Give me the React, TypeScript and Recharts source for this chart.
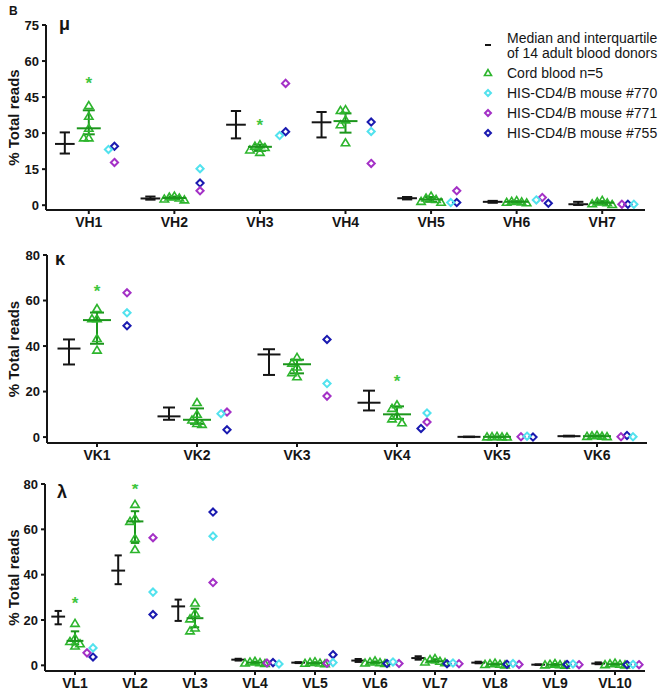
import React from 'react';
import { ScatterChart, Scatter, XAxis, YAxis, ErrorBar, Legend } from 'recharts';

const FONT = '"Liberation Sans", Arial, Helvetica, sans-serif';
const INK = '#151515';
const GREEN = '#2db52d';
const GREEN_DARK = '#1c961c';
const STAR_GREEN = '#3fc63f';
const CYAN = '#52e2ee';
const PURPLE = '#a431c6';
const BLUE = '#1a1ab0';

// ---- mu heavy chain (VH) ----
const VH_CATS = ['VH1', 'VH2', 'VH3', 'VH4', 'VH5', 'VH6', 'VH7'];
const VH_ADULT_MED = [25.5, 2.8, 33.5, 34.5, 2.9, 1.4, 0.4];
const VH_ADULT_Q1 = [21.5, 2.3, 27.8, 28.2, 2.4, 1.0, 0.1];
const VH_ADULT_Q3 = [30.3, 3.6, 39.2, 38.8, 3.4, 1.8, 1.4];
const VH_CORD = [
  [41.5, 37, 32, 28, 28],
  [3.8, 3.4, 3.0, 2.6, 2.2],
  [25.2, 24.6, 24.0, 23.0, 22.0],
  [39.8, 39.4, 35.5, 33.5, 26],
  [3.8, 3.0, 2.4, 1.6, 1.2],
  [1.9, 1.6, 1.4, 1.2, 1.0],
  [2.0, 1.4, 1.0, 0.6, 0.3],
];
const VH_CORD_MED = [32, 3.0, 24.3, 35, 2.4, 1.4, 1.0];
const VH_CORD_Q1 = [29.5, 2.5, 22.6, 30.2, 1.4, 1.1, 0.4];
const VH_CORD_Q3 = [39.5, 3.6, 25.2, 38.2, 3.4, 1.7, 1.7];
const VH_M770 = [23.2, 15.2, 29, 30.7, 1.1, 2.2, 0.4];
const VH_M771 = [17.8, 6.0, 50.7, 17.4, 6.0, 3.2, 0.4];
const VH_M755 = [24.5, 9.2, 30.6, 34.6, 1.1, 0.8, 0.4];
const VH_STAR = [52, null, 34.5, null, null, null, null];
const VH_TICKS = [0, 15, 30, 45, 60, 75];

// ---- kappa light chain (VK) ----
const VK_CATS = ['VK1', 'VK2', 'VK3', 'VK4', 'VK5', 'VK6'];
const VK_ADULT_MED = [38.9, 9.1, 36.3, 15.1, 0.1, 0.4];
const VK_ADULT_Q1 = [31.9, 7.6, 27.3, 11.7, 0.0, 0.3];
const VK_ADULT_Q3 = [42.9, 13, 38.6, 20.4, 0.2, 0.6];
const VK_CORD = [
  [56.5, 52, 52, 43.3, 38.2],
  [15.2, 10, 7.5, 6, 5.6],
  [35, 32.5, 30.8, 28.3, 26.5],
  [14.2, 12.6, 9.3, 8, 6.3],
  [0.3, 0.2, 0.1, 0.1, 0.05],
  [0.8, 0.6, 0.4, 0.3, 0.2],
];
const VK_CORD_MED = [51.4, 7.6, 32, 10, 0.1, 0.4];
const VK_CORD_Q1 = [41, 5.8, 28, 8, 0.05, 0.25];
const VK_CORD_Q3 = [54.7, 12.6, 34, 13.5, 0.25, 0.7];
const VK_M770 = [54.6, 10.3, 23.5, 10.6, 0.4, 0.15];
const VK_M771 = [63.4, 11, 18, 6.6, 0.15, 0.15];
const VK_M755 = [48.9, 3.2, 42.9, 3.8, 0.0, 0.7];
const VK_STAR = [65.3, null, null, 25.8, null, null];
const VK_TICKS = [0, 20, 40, 60, 80];

// ---- lambda light chain (VL) ----
const VL_CATS = ['VL1', 'VL2', 'VL3', 'VL4', 'VL5', 'VL6', 'VL7', 'VL8', 'VL9', 'VL10'];
const VL_ADULT_MED = [21.5, 41.8, 26, 2.5, 1.2, 2.1, 3.2, 1.2, 0.3, 0.8];
const VL_ADULT_Q1 = [18.1, 35.8, 19.6, 2.1, 1.0, 1.5, 2.5, 0.9, 0.2, 0.5];
const VL_ADULT_Q3 = [24, 48.5, 29, 2.9, 1.4, 2.8, 4.0, 1.6, 0.4, 1.3];
const VL_CORD = [
  [18.5, 12, 10.5, 9.5, 8.5],
  [71, 64.8, 63.5, 56, 51.1],
  [27.5, 23, 20.5, 16.5, 15.2],
  [1.8, 1.5, 1.2, 1.0, 0.8],
  [1.6, 1.3, 1.0, 0.9, 0.7],
  [2.0, 1.5, 1.2, 1.0, 0.8],
  [3.0, 2.5, 1.8, 1.5, 1.2],
  [1.0, 0.7, 0.5, 0.4, 0.2],
  [0.8, 0.5, 0.3, 0.2, 0.1],
  [1.0, 0.7, 0.5, 0.3, 0.2],
];
const VL_CORD_MED = [10.8, 63.5, 20.8, 1.2, 1.0, 1.2, 1.8, 0.5, 0.3, 0.5];
const VL_CORD_Q1 = [9.2, 54, 16.8, 0.9, 0.8, 0.9, 1.3, 0.3, 0.15, 0.25];
const VL_CORD_Q3 = [15, 68, 25, 1.6, 1.4, 1.7, 2.7, 0.8, 0.6, 0.8];
const VL_M770 = [7.7, 32.3, 57, 0.6, 1.2, 1.5, 1.0, 0.8, 0.6, 0.4];
const VL_M771 = [5.5, 56.3, 36.5, 1.0, 0.9, 0.8, 0.7, 0.4, 0.3, 0.3];
const VL_M755 = [3.7, 22.4, 67.6, 1.2, 4.7, 0.8, 0.7, 0.5, 0.4, 0.3];
const VL_STAR = [28.7, 79.3, null, null, null, null, null, null, null, null];
const VL_TICKS = [0, 20, 40, 60, 80];

const X_AXIS_H = 22;
const ADULT_OFF = -0.28;
const MICE_OFF = 0.3;

// column-scatter jitter: push overlapping points sideways (pixel offsets)
function swarm(values: number[], pxPerUnit: number, step: number, w: number, h: number) {
  const order = values.map((v, i) => i).sort((a, b) => values[b] - values[a]);
  const placed: { y: number; dx: number }[] = [];
  const out: number[] = new Array(values.length).fill(0);
  order.forEach((idx) => {
    const y = values[idx] * pxPerUnit;
    for (let k = 0; k < 20; k++) {
      const n = Math.ceil(k / 2) * (k % 2 === 1 ? -1 : 1);
      const dx = n * step;
      const hit = placed.some((p) => Math.abs(p.dx - dx) < w && Math.abs(p.y - y) < h);
      if (!hit) {
        placed.push({ y, dx });
        out[idx] = dx;
        break;
      }
    }
  });
  return out;
}

const medianShape = (w: number, color: string) => (p: any) => (
  <line x1={p.cx - w / 2} x2={p.cx + w / 2} y1={p.cy} y2={p.cy} stroke={color} strokeWidth={2} />
);

const triangle = (p: any) => (
  <polygon
    points={`${p.cx},${p.cy - 4} ${p.cx - 4.2},${p.cy + 3} ${p.cx + 4.2},${p.cy + 3}`}
    fill="none" stroke={GREEN} strokeWidth={1.6}
  />
);

const diamond = (color: string) => (p: any) => (
  <polygon
    points={`${p.cx},${p.cy - 3.6} ${p.cx + 3.6},${p.cy} ${p.cx},${p.cy + 3.6} ${p.cx - 3.6},${p.cy}`}
    fill="none" stroke={color} strokeWidth={2}
  />
);

const star = (p: any) => (
  <text x={p.cx} y={p.cy + 9} textAnchor="middle" fontSize={17} fontWeight="bold" fill={STAR_GREEN} fontFamily={FONT}>*</text>
);

const YLabel = (props: any) => {
  const vb = props.viewBox || { y: 0, height: 0 };
  const cy = vb.y + vb.height / 2;
  return (
    <text x={13} y={cy} transform={`rotate(-90, 13, ${cy})`} textAnchor="middle" dominantBaseline="central"
      fontSize={15} fontWeight="bold" fill={INK} fontFamily={FONT}>
      % Total reads
    </text>
  );
};

const LegendBox = () => (
  <svg width={661} height={150} style={{ display: 'block' }}>
    <g fontFamily={FONT} fontSize={14} fill={INK}>
      <line x1={485} x2={491} y1={45} y2={45} stroke={INK} strokeWidth={2} />
      <text x={507} y={38} dominantBaseline="central">Median and interquartile</text>
      <text x={507} y={53} dominantBaseline="central">of 14 adult blood donors</text>
      <polygon points="488,69.5 484.5,75.5 491.5,75.5" fill="none" stroke={GREEN} strokeWidth={1.6} />
      <text x={507} y={73} dominantBaseline="central">Cord blood n=5</text>
      <polygon points="488,90 491,93 488,96 485,93" fill="none" stroke={CYAN} strokeWidth={2} />
      <text x={507} y={93} dominantBaseline="central">HIS-CD4/B mouse #770</text>
      <polygon points="488,110 491,113 488,116 485,113" fill="none" stroke={PURPLE} strokeWidth={2} />
      <text x={507} y={113} dominantBaseline="central">HIS-CD4/B mouse #771</text>
      <polygon points="488,130 491,133 488,136 485,133" fill="none" stroke={BLUE} strokeWidth={2} />
      <text x={507} y={133} dominantBaseline="central">HIS-CD4/B mouse #755</text>
    </g>
  </svg>
);

interface PanelProps {
  cats: string[];
  adultMed: number[]; adultQ1: number[]; adultQ3: number[];
  cord: number[][]; cordMed: number[]; cordQ1: number[]; cordQ3: number[];
  m770: number[]; m771: number[]; m755: number[];
  star: (number | null)[];
  ticks: number[];
  yDomain: [number, number];
  top: number; height: number; marginTop: number; left: number; right: number;
  withLegend?: boolean;
}

const Panel: React.FC<PanelProps> = (d) => {
  const n = d.cats.length;
  const catPx = (d.right - d.left) / n;
  const plotH = d.height - d.marginTop - X_AXIS_H;
  const pxPerUnit = plotH / (d.yDomain[1] - d.yDomain[0]);

  const adult = d.cats.map((_, i) => ({
    x: i + 1 + ADULT_OFF, y: d.adultMed[i], err: [d.adultMed[i] - d.adultQ1[i], d.adultQ3[i] - d.adultMed[i]],
  }));
  const cordMed = d.cats.map((_, i) => ({
    x: i + 1, y: d.cordMed[i], err: [d.cordMed[i] - d.cordQ1[i], d.cordQ3[i] - d.cordMed[i]],
  }));
  const cordPts = d.cord.flatMap((vals, i) => {
    const dx = swarm(vals, pxPerUnit, 5, 5, 7);
    return vals.map((v, k) => ({ x: i + 1 + dx[k] / catPx, y: v }));
  });
  const m755: any[] = [], m771: any[] = [], m770: any[] = [];
  d.cats.forEach((_, i) => {
    const vals = [d.m755[i], d.m771[i], d.m770[i]];
    const dx = swarm(vals, pxPerUnit, 6, 6, 7);
    m755.push({ x: i + 1 + MICE_OFF + dx[0] / catPx, y: vals[0] });
    m771.push({ x: i + 1 + MICE_OFF + dx[1] / catPx, y: vals[1] });
    m770.push({ x: i + 1 + MICE_OFF + dx[2] / catPx, y: vals[2] });
  });
  const stars = d.star.map((v, i) => (v == null ? null : { x: i + 1, y: v })).filter(Boolean) as any[];

  const tickStyle = { fontSize: 14, fontWeight: 'bold', fill: INK, fontFamily: FONT };

  return (
    <div style={{ position: 'absolute', left: 0, top: d.top, width: 661, height: d.height }}>
      <ScatterChart width={661} height={d.height}
        margin={{ top: d.marginTop, right: 661 - d.right, bottom: 0, left: 0 }}>
        <XAxis type="number" dataKey="x" domain={[0.5, n + 0.5]} allowDataOverflow
          ticks={d.cats.map((_, i) => i + 1)} interval={0} height={X_AXIS_H}
          tickFormatter={(v: number) => d.cats[Math.round(v) - 1] || ''}
          tick={tickStyle} tickSize={4} tickMargin={3}
          axisLine={{ stroke: INK, strokeWidth: 2 }} tickLine={{ stroke: INK, strokeWidth: 2 }} />
        <YAxis type="number" dataKey="y" domain={d.yDomain} allowDataOverflow ticks={d.ticks} interval={0}
          width={d.left} tick={{ ...tickStyle, fontSize: 13 }} tickSize={4} tickMargin={3}
          axisLine={{ stroke: INK, strokeWidth: 2 }} tickLine={{ stroke: INK, strokeWidth: 2 }}
          label={<YLabel />} />
        {d.withLegend && (
          <Legend layout="vertical" align="center" verticalAlign="middle"
            wrapperStyle={{ position: 'absolute', left: 0, top: 0, width: 661, height: 150, pointerEvents: 'none' }}
            content={() => <LegendBox />} />
        )}
        <Scatter data={adult} isAnimationActive={false} shape={medianShape(0.23 * catPx, INK)}>
          <ErrorBar dataKey="err" direction="y" width={0.06 * catPx} stroke={INK} strokeWidth={2} isAnimationActive={false} />
        </Scatter>
        <Scatter data={cordPts} isAnimationActive={false} shape={triangle} />
        <Scatter data={cordMed} isAnimationActive={false} shape={medianShape(0.28 * catPx, GREEN_DARK)}>
          <ErrorBar dataKey="err" direction="y" width={0.07 * catPx} stroke={GREEN_DARK} strokeWidth={2} isAnimationActive={false} />
        </Scatter>
        <Scatter data={stars} isAnimationActive={false} shape={star} />
        <Scatter data={m755} isAnimationActive={false} shape={diamond(BLUE)} />
        <Scatter data={m771} isAnimationActive={false} shape={diamond(PURPLE)} />
        <Scatter data={m770} isAnimationActive={false} shape={diamond(CYAN)} />
      </ScatterChart>
    </div>
  );
};

export default function App() {
  return (
    <div style={{ position: 'absolute', left: 0, top: 0, width: 661, height: 693, background: '#fff', overflow: 'hidden' }}>
      <Panel cats={VH_CATS} adultMed={VH_ADULT_MED} adultQ1={VH_ADULT_Q1} adultQ3={VH_ADULT_Q3}
        cord={VH_CORD} cordMed={VH_CORD_MED} cordQ1={VH_CORD_Q1} cordQ3={VH_CORD_Q3}
        m770={VH_M770} m771={VH_M771} m755={VH_M755} star={VH_STAR} ticks={VH_TICKS}
        yDomain={[-2, 75]} top={0} height={232} marginTop={25} left={46} right={645} withLegend />
      <Panel cats={VK_CATS} adultMed={VK_ADULT_MED} adultQ1={VK_ADULT_Q1} adultQ3={VK_ADULT_Q3}
        cord={VK_CORD} cordMed={VK_CORD_MED} cordQ1={VK_CORD_Q1} cordQ3={VK_CORD_Q3}
        m770={VK_M770} m771={VK_M771} m755={VK_M755} star={VK_STAR} ticks={VK_TICKS}
        yDomain={[-2.6, 80]} top={232} height={233} marginTop={23} left={47} right={647} />
      <Panel cats={VL_CATS} adultMed={VL_ADULT_MED} adultQ1={VL_ADULT_Q1} adultQ3={VL_ADULT_Q3}
        cord={VL_CORD} cordMed={VL_CORD_MED} cordQ1={VL_CORD_Q1} cordQ3={VL_CORD_Q3}
        m770={VL_M770} m771={VL_M771} m755={VL_M755} star={VL_STAR} ticks={VL_TICKS}
        yDomain={[-2.5, 80]} top={465} height={228} marginTop={19} left={45} right={645} />
      <svg width={661} height={693} style={{ position: 'absolute', left: 0, top: 0, pointerEvents: 'none' }}>
        <g fontFamily={FONT} fontWeight="bold" fill={INK}>
          <text x={9} y={15} fontSize={12}>B</text>
          <text x={59} y={30} fontSize={18}>μ</text>
          <text x={55} y={265} fontSize={18}>κ</text>
          <text x={57} y={498} fontSize={18}>λ</text>
        </g>
      </svg>
    </div>
  );
}
